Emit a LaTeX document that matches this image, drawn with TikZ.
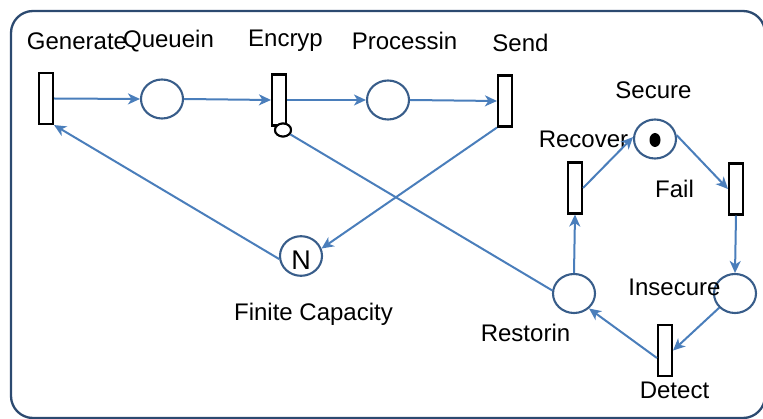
\documentclass[tikz,border=0pt]{standalone}
\usepackage{fontspec}
\setmainfont{Liberation Sans}
\usetikzlibrary{arrows.meta,shapes.geometric}
\definecolor{framecol}{RGB}{44,74,112}
\definecolor{placecol}{RGB}{56,93,138}
\definecolor{arccol}{RGB}{74,126,187}
\tikzset{
  place/.style={ellipse, draw=placecol, line width=2.1pt, minimum width=42pt,
    minimum height=39pt, inner sep=0pt},
  trans/.style={rectangle, draw=black, fill=white, line width=2.1pt,
    minimum width=14pt, minimum height=51pt, inner sep=0pt},
  inhib/.style={ellipse, draw=black, fill=white, line width=2pt,
    minimum width=16pt, minimum height=13pt, inner sep=0pt},
  token/.style={ellipse, fill=black, minimum width=11pt, minimum height=14pt, inner sep=0pt},
  lbl/.style={anchor=base, inner sep=0pt, font=\fontsize{24}{28}\selectfont},
  arc/.style={draw=arccol, line width=2pt,
    -{Stealth[length=12pt, width=11pt, inset=3.5pt]}},
  plainarc/.style={draw=arccol, line width=2pt},
}
\begin{document}
\begin{tikzpicture}[x=1pt, y=-1pt]
\useasboundingbox (0,0) rectangle (763,419);
\clip (0,0) rectangle (763,419);

% outer frame
\draw[framecol, line width=2.3pt, rounded corners=22pt] (11,11) rectangle (765,418);

% transitions
\node[trans] (gen) at (46,98.5) {};
\node[trans] (enc) at (279,100) {};
\node[trans] (snd) at (505,101) {};
\node[trans] (rec) at (575,188) {};
\node[trans] (fail) at (736,189) {};
\node[trans] (det) at (665,350.5) {};
\node[inhib] (inh) at (283,130) {};

% places
\node[place] (que) at (162,99) {};
\node[place] (proc) at (388,100) {};
\node[place] (sec) at (655,139) {};
\node[token] (tok) at (655,140) {};
\node[place, font=\fontsize{27}{30}\selectfont, text height=28pt, text depth=0pt] (cap) at (301,256) {N};
\node[place] (rest) at (574,293.5) {};
\node[place] (ins) at (735,293.5) {};

% labels
\node[lbl] at (77,50) {Generate};
\node[lbl] at (168.5,48) {Queuein};
\node[lbl] at (285.5,47) {Encryp};
\node[lbl] at (404.5,50) {Processin};
\node[lbl] at (520.5,52) {Send};
\node[lbl] at (653.5,99) {Secure};
\node[lbl] at (583.5,148) {Recover};
\node[lbl] at (674.5,198) {Fail};
\node[lbl] at (313.5,321) {Finite Capacity};
\node[lbl] at (525.5,342) {Restorin};
\node[lbl] at (674.5,296) {Insecure};
\node[lbl] at (674.5,399) {Detect};

% arcs of the main flow
\draw[arc] (gen.east) -- (que.west);
\draw[arc] (que.east) -- (enc.west);
\draw[arc] (enc.east) -- (proc.west);
\draw[arc] (proc.east) -- (snd.west);
\draw[arc] (snd.south west) -- (cap.20);
\draw[arc] (cap.188) -- (gen.south east);

% inhibitor arc
\draw[plainarc] (rest.172) -- (inh);

% security cycle
\draw[arc] (rest.north) -- (rec.south);
\draw[arc] (rec.east) -- (sec.175);
\draw[arc] (sec.10) -- (fail.west);
\draw[arc] (fail.south) -- (ins.north);
\draw[arc] (ins.222) -- (det.east);
\draw[arc] (det.223) -- (rest.315);

% redraw so the inhibitor circle sits on top of its arc
\node[inhib] at (inh) {};
\end{tikzpicture}
\end{document}
